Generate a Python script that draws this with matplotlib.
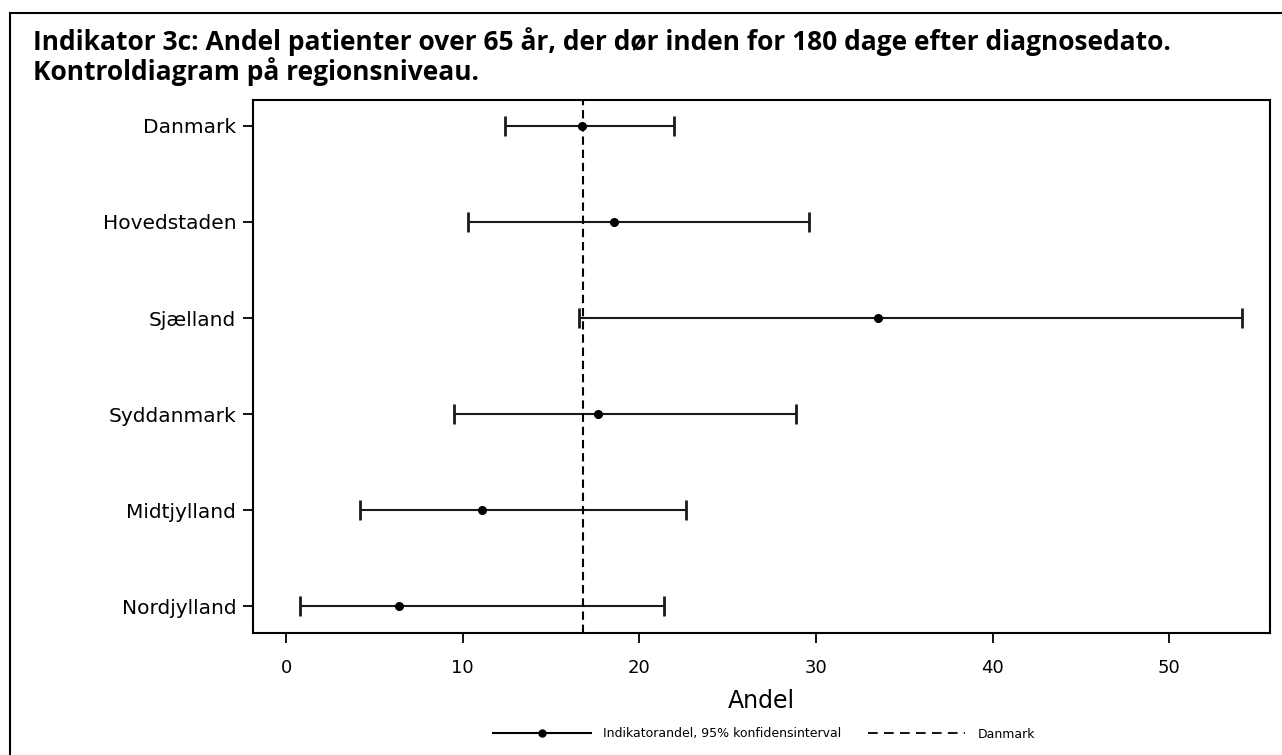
import matplotlib.pyplot as plt
from matplotlib.patches import Rectangle
from matplotlib.lines import Line2D

plt.rcParams['lines.scale_dashes'] = False

regions = ['Danmark', 'Hovedstaden', 'Sjælland', 'Syddanmark', 'Midtjylland', 'Nordjylland']
andel = [16.75, 18.55, 33.5, 17.65, 11.1, 6.4]
lower = [12.4, 10.3, 16.6, 9.5, 4.2, 0.8]
upper = [21.95, 29.6, 54.1, 28.85, 22.65, 21.4]
danmark_line = 16.8
xticks = [0, 10, 20, 30, 40, 50]

W, H = 1282, 755
fig = plt.figure(figsize=(W / 100, H / 100), dpi=100)
ax_l, ax_r, ax_t, ax_b = 253, 1270, 100, 633
ax = fig.add_axes([ax_l / W, 1 - ax_b / H, (ax_r - ax_l) / W, (ax_b - ax_t) / H])

# outer frame
fig.patches.append(Rectangle((10 / W, -0.1), 1.2, 1 - 13 / H + 0.1, transform=fig.transFigure,
                             fill=False, lw=1.5, ec='black'))

ypos = list(range(len(regions)))
xerr = [[a - l for a, l in zip(andel, lower)], [u - a for a, u in zip(andel, upper)]]
ax.errorbar(andel, ypos, xerr=xerr, fmt='o', color='black', ms=5.5, lw=1.5,
            capsize=7, capthick=2, ecolor='#1a1a1a')
ax.axvline(danmark_line, color='black', ls=(0, (6, 3.5)), lw=1.5)

ax.set_ylim(5.28, -0.27)
ax.set_xlim(-1.87, 55.7)
ax.set_yticks(ypos)
ax.set_yticklabels(regions, fontsize=14.5)
ax.set_xticks(xticks)
ax.set_xticklabels([str(t) for t in xticks], fontsize=13)
ax.tick_params(axis='both', length=7, width=1.3, color='black')
ax.tick_params(axis='x', pad=12)
ax.tick_params(axis='y', pad=5)
ax.set_xlabel('Andel', fontsize=17, labelpad=8)
for s in ax.spines.values():
    s.set_linewidth(1.5)

fig.text(33 / W, 1 - 42 / H, 'Indikator 3c: Andel patienter over 65 år, der dør inden for 180 dage efter diagnosedato.',
         fontsize=19, fontweight='bold', family='Open Sans', va='center', ha='left')
fig.text(33 / W, 1 - 72 / H, 'Kontroldiagram på regionsniveau.',
         fontsize=19, fontweight='bold', family='Open Sans', va='center', ha='left')

handles = [Line2D([], [], color='black', marker='o', ms=5, lw=1.5),
           Line2D([], [], color='black', ls=(0, (7, 4.5)), lw=1.3)]
fig.legend(handles, ['Indikatorandel, 95% konfidensinterval', 'Danmark'],
           loc='center', bbox_to_anchor=(764 / W, 1 - 734 / H), ncol=2, frameon=False,
           handlelength=7.8, handletextpad=1.0, columnspacing=2.1,
           prop={'family': 'DejaVu Sans', 'size': 9})

fig.savefig('out.png', dpi=100)
